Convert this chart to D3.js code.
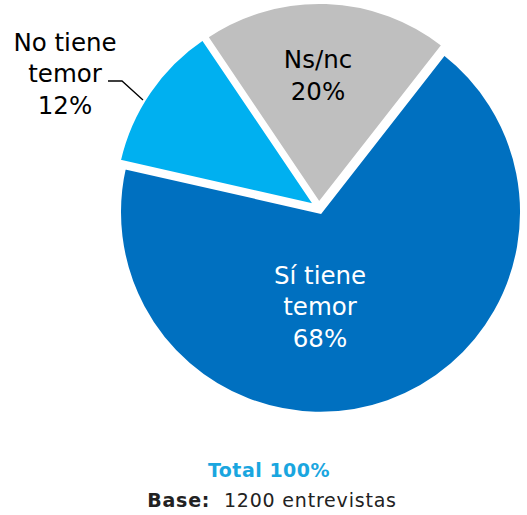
<!DOCTYPE html>
<html>
<head>
<meta charset="utf-8">
<script src="https://cdn.jsdelivr.net/npm/d3@7.9.0/dist/d3.min.js"></script>
<style>
  body { margin: 0; background: #fff; }
  text { font-family: "DejaVu Sans", sans-serif; }
</style>
</head>
<body>
<svg id="chart" width="527" height="515"></svg>
<script>
const width = 527;
const height = 515;

// data
const categories = ["Sí tiene temor", "No tiene temor", "Ns/nc"];
const values = [68, 12, 20];
const labelLines = [["Sí tiene", "temor", "68%"], ["No tiene", "temor", "12%"], ["Ns/nc", "20%"]];
const colors = ["#0070C0", "#00B0F0", "#BFBFBF"];
const textColors = ["#fff", "#000", "#000"];

const cx = 319, cy = 208, radius = 201, explode = 4.5;

const svg = d3.select("#chart");

const pie = d3.pie()
  .sort(null)
  .value(d => d)
  .startAngle(38 * Math.PI / 180)
  .endAngle(38 * Math.PI / 180 + 2 * Math.PI);

const arc = d3.arc().innerRadius(0).outerRadius(radius);
const arcs = pie(values);

const g = svg.append("g").attr("transform", `translate(${cx},${cy})`);

g.selectAll("path")
  .data(arcs)
  .join("path")
  .attr("d", arc)
  .attr("fill", (d, i) => colors[i])
  .attr("stroke", "#fff")
  .attr("stroke-width", 3)
  .attr("stroke-linejoin", "miter")
  .attr("transform", d => {
    const a = (d.startAngle + d.endAngle) / 2;
    return `translate(${Math.sin(a) * explode},${-Math.cos(a) * explode})`;
  });

// label anchors (center of text block, relative to pie center)
const labelPos = [[1, 99], [-254, -134], [-1, -132]];
const lineH = 31.5;

labelLines.forEach((lines, i) => {
  const [lx, ly] = labelPos[i];
  const t = g.append("text")
    .attr("text-anchor", "middle")
    .attr("font-size", 24.5)
    .attr("fill", textColors[i]);
  lines.forEach((s, j) => {
    t.append("tspan")
      .attr("x", lx)
      .attr("y", ly + (j - (lines.length - 1) / 2) * lineH + 8)
      .text(s);
  });
});

// leader line for the small slice
svg.append("polyline")
  .attr("points", "108,81 122,81 143,100")
  .attr("fill", "none")
  .attr("stroke", "#000")
  .attr("stroke-width", 1.3);

// footer
svg.append("text")
  .attr("x", 269).attr("y", 477)
  .attr("text-anchor", "middle")
  .attr("font-size", 19)
  .attr("letter-spacing", 0.5)
  .attr("font-weight", "bold")
  .attr("fill", "#1AA6DF")
  .text("Total 100%");

const base = svg.append("text")
  .attr("x", 272).attr("y", 507)
  .attr("text-anchor", "middle")
  .attr("font-size", 19)
  .attr("letter-spacing", 0.8)
  .attr("fill", "#222");
base.append("tspan").attr("font-weight", "bold").text("Base:");
base.append("tspan").text("\u00a0 1200 entrevistas");
</script>
</body>
</html>
